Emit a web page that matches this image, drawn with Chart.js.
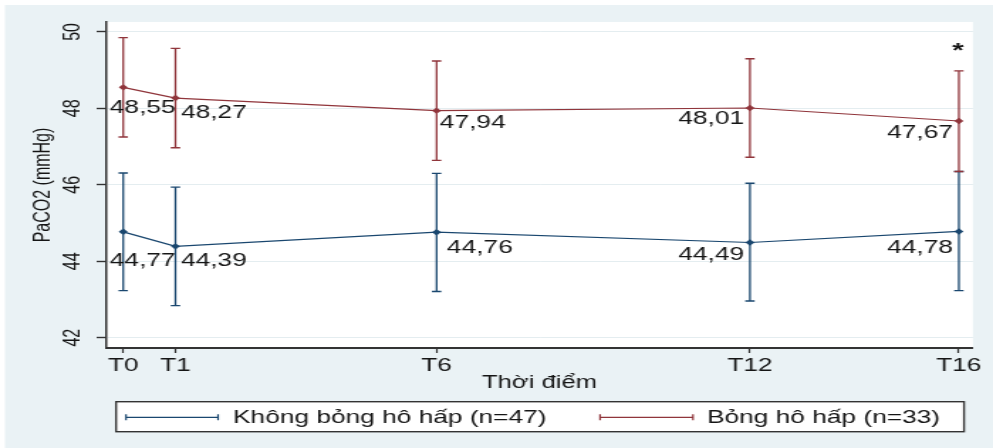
<!DOCTYPE html>
<html>
<head>
<meta charset="utf-8">
<script src="https://cdn.jsdelivr.net/npm/chart.js@4/dist/chart.umd.min.js"></script>
<style>
  html, body { margin: 0; padding: 0; background: #ffffff; overflow: hidden; }
  #wrap { position: absolute; left: 0; top: 0; width: 699px; height: 448px;
          transform: scaleX(1.4206); transform-origin: 0 0; }
  canvas { display: block; }
</style>
</head>
<body>
<div id="wrap"><canvas id="chart" width="699" height="448"></canvas></div>
<script>
// Time points (hours) and their axis labels
const timeLabels = ['T0', 'T1', 'T6', 'T12', 'T16'];
const timePoints = [0, 1, 6, 12, 16];

// PaCO2 (mmHg): mean with lower / upper bounds of the error bars
const noBurnMean  = [44.77, 44.39, 44.76, 44.49, 44.78];
const noBurnLow   = [43.23, 42.84, 43.21, 42.96, 43.23];
const noBurnHigh  = [46.31, 45.94, 46.30, 46.04, 46.35];

const burnMean    = [48.55, 48.27, 47.94, 48.01, 47.67];
const burnLow     = [47.25, 46.97, 46.64, 46.72, 46.35];
const burnHigh    = [49.85, 49.57, 49.24, 49.30, 48.98];

const yTicks = [42, 44, 46, 48, 50];

const seriesNames = ['Không bỏng hô hấp (n=47)', 'Bỏng hô hấp (n=33)'];
const significantIndex = 4; // the "*" mark sits above this time point

const NAVY = '#1a476f';
const MAROON = '#90353b';
const BG = '#eaf2f5';
const INK = '#151515';
const FONT = '"Liberation Sans", Arial, sans-serif';

// label placement per point: anchor side and offset from the marker (px)
const labelPlacement = [
  [ {a: 'left', dx: -9.4, dy: 29.4}, {a: 'left', dx: 3.9, dy: 15}, {a: 'left', dx: 7.3, dy: 16},
    {a: 'right', dx: -4.2, dy: 12.7}, {a: 'right', dx: -4.2, dy: 16.8} ],
  [ {a: 'left', dx: -9.4, dy: 20.8}, {a: 'left', dx: 3.9, dy: 15}, {a: 'left', dx: 2.3, dy: 12.4},
    {a: 'right', dx: -4.2, dy: 11}, {a: 'right', dx: -4.2, dy: 12} ]
];

const errorLow = [noBurnLow, burnLow];
const errorHigh = [noBurnHigh, burnHigh];

function toPoints(means) {
  return timePoints.map((t, i) => ({ x: t, y: means[i] }));
}

const backgroundPlugin = {
  id: 'panelBackground',
  beforeDraw(chart) {
    const { ctx, width, height, chartArea } = chart;
    ctx.save();
    ctx.fillStyle = '#ffffff';
    ctx.fillRect(0, 0, width, height);
    ctx.fillStyle = BG;
    ctx.fillRect(3.5, 5, width - 3.5, height - 5);
    ctx.fillStyle = '#ffffff';
    ctx.fillRect(chartArea.left, chartArea.top, chartArea.right - chartArea.left, chartArea.bottom - chartArea.top);
    ctx.restore();
  }
};

const errorBarPlugin = {
  id: 'errorBars',
  beforeDatasetsDraw(chart) {
    const { ctx } = chart;
    const xs = chart.scales.x, ys = chart.scales.y;
    ctx.save();
    chart.data.datasets.forEach((ds, d) => {
      ctx.strokeStyle = ds.borderColor;
      timePoints.forEach((t, i) => {
        const x = xs.getPixelForValue(t);
        const yLo = ys.getPixelForValue(errorLow[d][i]);
        const yHi = ys.getPixelForValue(errorHigh[d][i]);
        ctx.lineWidth = 1.3;
        ctx.beginPath();
        ctx.moveTo(x, yLo); ctx.lineTo(x, yHi);
        ctx.stroke();
        ctx.lineWidth = 1.4;
        ctx.beginPath();
        ctx.moveTo(x - 3.3, yLo); ctx.lineTo(x + 3.3, yLo);
        ctx.moveTo(x - 3.3, yHi); ctx.lineTo(x + 3.3, yHi);
        ctx.stroke();
      });
    });
    ctx.restore();
  }
};

const valueLabelPlugin = {
  id: 'valueLabels',
  afterDatasetsDraw(chart) {
    const { ctx } = chart;
    ctx.save();
    ctx.font = '18.5px ' + FONT;
    ctx.fillStyle = INK;
    ctx.textBaseline = 'middle';
    chart.data.datasets.forEach((ds, d) => {
      const meta = chart.getDatasetMeta(d);
      meta.data.forEach((pt, i) => {
        const p = labelPlacement[d][i];
        const text = ds.data[i].y.toFixed(2).replace('.', ',');
        ctx.textAlign = p.a;
        ctx.fillText(text, pt.x + p.dx, pt.y + p.dy);
      });
    });
    // significance mark
    const xs = chart.scales.x, ys = chart.scales.y;
    ctx.font = 'bold 21px ' + FONT;
    ctx.textAlign = 'center';
    ctx.textBaseline = 'alphabetic';
    ctx.fillText('*', xs.getPixelForValue(timePoints[significantIndex]) - 0.7,
                 ys.getPixelForValue(burnHigh[significantIndex]) - 13.5);
    ctx.restore();
  }
};

const legendBoxPlugin = {
  id: 'legendBox',
  afterDraw(chart) {
    const { ctx } = chart;
    const left = 81.7, right = 678.6, top = 401.7, bottom = 431.7, midY = 417.3;
    const items = [
      { x0: 88.7, x1: 153.5, tx: 164 },
      { x0: 422.4, x1: 487.8, tx: 497.7 }
    ];
    ctx.save();
    ctx.fillStyle = '#ffffff';
    ctx.fillRect(left, top, right - left, bottom - top);
    ctx.strokeStyle = '#333333';
    ctx.lineWidth = 1.4;
    ctx.strokeRect(left, top, right - left, bottom - top);
    ctx.font = '18.5px ' + FONT;
    ctx.textAlign = 'left';
    ctx.textBaseline = 'middle';
    chart.data.datasets.forEach((ds, d) => {
      const it = items[d];
      ctx.strokeStyle = ds.borderColor;
      ctx.lineWidth = 1.2;
      ctx.beginPath();
      ctx.moveTo(it.x0, midY); ctx.lineTo(it.x1, midY);
      ctx.moveTo(it.x0, midY - 3); ctx.lineTo(it.x0, midY + 3);
      ctx.moveTo(it.x1, midY - 3); ctx.lineTo(it.x1, midY + 3);
      ctx.stroke();
      ctx.fillStyle = INK;
      ctx.fillText(ds.label, it.tx, midY + 0.5);
    });
    ctx.restore();
  }
};

Chart.defaults.font.family = FONT;
Chart.defaults.color = INK;

new Chart(document.getElementById('chart'), {
  type: 'line',
  data: {
    datasets: [
      {
        label: seriesNames[0],
        data: toPoints(noBurnMean),
        borderColor: NAVY,
        backgroundColor: NAVY,
        borderWidth: 1.2,
        pointStyle: 'rectRot',
        pointRadius: 3.2,
        pointBackgroundColor: NAVY,
        pointBorderWidth: 0,
        tension: 0
      },
      {
        label: seriesNames[1],
        data: toPoints(burnMean),
        borderColor: MAROON,
        backgroundColor: MAROON,
        borderWidth: 1.2,
        pointStyle: 'rectRot',
        pointRadius: 3.2,
        pointBackgroundColor: MAROON,
        pointBorderWidth: 0,
        tension: 0
      }
    ]
  },
  options: {
    responsive: false,
    animation: false,
    layout: { padding: { top: 22, right: 14.1, left: 0, bottom: 0 } },
    plugins: {
      legend: { display: false },
      tooltip: { enabled: false }
    },
    scales: {
      x: {
        type: 'linear',
        min: -0.33,
        max: 16.27,
        afterBuildTicks(scale) { scale.ticks = timePoints.map(v => ({ value: v })); },
        afterFit(scale) { scale.height = 100; },
        ticks: {
          autoSkip: false,
          maxRotation: 0,
          padding: 2,
          font: { size: 18.5 },
          color: INK,
          callback: (v) => timeLabels[timePoints.indexOf(v)]
        },
        grid: { drawOnChartArea: false, drawTicks: true, tickLength: 5, tickColor: '#333333', tickWidth: 1.2 },
        border: { display: true, color: '#333333', width: 2 },
        title: {
          display: true,
          text: 'Thời điểm',
          font: { size: 18 },
          color: INK,
          padding: { top: 0, bottom: 53.9 }
        }
      },
      y: {
        type: 'linear',
        min: 41.73,
        max: 50.26,
        afterBuildTicks(scale) { scale.ticks = yTicks.map(v => ({ value: v })); },
        afterFit(scale) { scale.width = 74.6; },
        ticks: {
          minRotation: 90,
          maxRotation: 90,
          crossAlign: 'center',
          padding: 7.4,
          font: { size: 16 },
          color: INK
        },
        grid: { color: '#e4edf0', lineWidth: 1, tickLength: 6.6, tickColor: '#333333', tickWidth: 1.4 },
        border: { display: true, color: '#333333', width: 1.5 },
        title: {
          display: true,
          text: 'PaCO2 (mmHg)',
          font: { size: 16 },
          color: INK,
          padding: { top: 21.4, bottom: 0 }
        }
      }
    }
  },
  plugins: [backgroundPlugin, errorBarPlugin, valueLabelPlugin, legendBoxPlugin]
});
</script>
</body>
</html>
